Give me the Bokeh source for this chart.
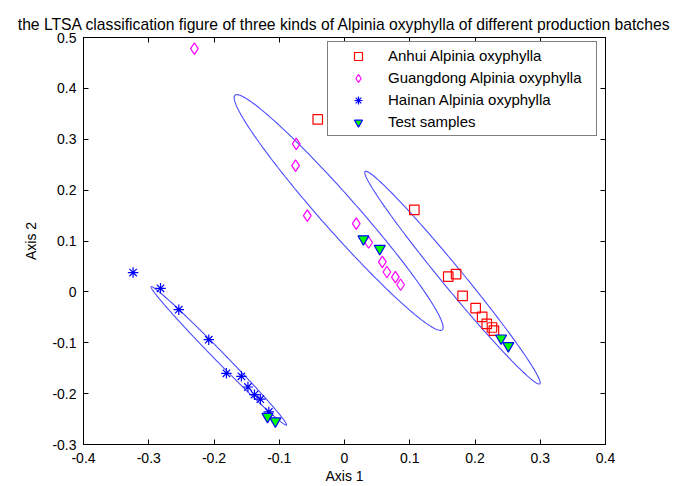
import numpy as np
from bokeh.plotting import figure
from bokeh.models import LinearAxis, FixedTicker, Legend, LegendItem, Range1d
from bokeh.embed import file_html
from bokeh.resources import INLINE

# ---- data ----
anhui_x = [-0.041, 0.107, 0.159, 0.171, 0.181, 0.201, 0.211, 0.218, 0.226, 0.229]
anhui_y = [0.339, 0.161, 0.030, 0.035, -0.008, -0.032, -0.049, -0.063, -0.070, -0.076]

guangdong_x = [-0.230, -0.074, -0.075, -0.057, 0.018, 0.037, 0.058, 0.065, 0.078, 0.086]
guangdong_y = [0.478, 0.291, 0.248, 0.150, 0.134, 0.097, 0.059, 0.039, 0.029, 0.014]

hainan_x = [-0.324, -0.282, -0.254, -0.208, -0.181, -0.158, -0.148, -0.138, -0.129, -0.116]
hainan_y = [0.038, 0.007, -0.035, -0.094, -0.160, -0.166, -0.187, -0.202, -0.211, -0.236]

test_x = [0.029, 0.054, 0.240, 0.251, -0.118, -0.106]
test_y = [0.104, 0.085, -0.091, -0.106, -0.245, -0.254]

# classification ellipses: centre, semi-axes, orientation (degrees)
ell_cx = [-0.009, 0.1655, -0.1926]
ell_cy = [0.156, 0.028, -0.1258]
ell_a = [0.280, 0.248, 0.171]
ell_b = [0.030, 0.0175, 0.0085]
ell_angle = [-55.6, -57.4, -52.7]

x_ticks = [-0.4, -0.3, -0.2, -0.1, 0.0, 0.1, 0.2, 0.3, 0.4]
x_tick_labels = ["-0.4", "-0.3", "-0.2", "-0.1", "0", "0.1", "0.2", "0.3", "0.4"]
y_ticks = [-0.3, -0.2, -0.1, 0.0, 0.1, 0.2, 0.3, 0.4, 0.5]
y_tick_labels = ["-0.3", "-0.2", "-0.1", "0", "0.1", "0.2", "0.3", "0.4", "0.5"]

labels = ["Anhui Alpinia oxyphylla", "Guangdong Alpinia oxyphylla",
          "Hainan Alpinia oxyphylla", "Test samples"]
title_text = ("the LTSA classification figure of three kinds of Alpinia oxyphylla "
              "of different production batches")

FONT = "Liberation Sans"

p = figure(width=681, height=486, output_backend="svg", toolbar_location=None,
           x_range=Range1d(-0.4, 0.4), y_range=Range1d(-0.3, 0.5),
           min_border_left=83, min_border_right=76, min_border_top=37,
           min_border_bottom=40)
p.title.text = title_text
p.title.text_font = FONT
p.title.text_font_size = "15.7px"
p.title.text_font_style = "normal"
p.title.align = "center"
p.title.offset = -12
p.title.text_color = "black"

p.xgrid.visible = False
p.ygrid.visible = False
p.outline_line_color = "black"
p.outline_line_alpha = 1.0
p.background_fill_color = "white"
p.border_fill_color = "white"

def style_axis(ax, ticks, tick_labels, show_labels=True):
    ax.ticker = FixedTicker(ticks=ticks)
    if show_labels:
        ax.major_label_overrides = {t: l for t, l in zip(ticks, tick_labels)}
    else:
        ax.major_label_overrides = {t: "" for t in ticks}
    ax.axis_line_color = "black"
    ax.major_tick_line_color = "black"
    ax.major_tick_in = 5
    ax.major_tick_out = 0
    ax.minor_tick_line_color = None
    ax.major_label_text_font = FONT
    ax.major_label_text_color = "black"
    ax.major_label_text_font_size = "14px"
    ax.major_label_standoff = 8 if show_labels else 0

xa = p.xaxis[0]
ya = p.yaxis[0]
style_axis(xa, x_ticks, x_tick_labels)
style_axis(ya, y_ticks, y_tick_labels)
ya.major_label_standoff = 7
xa.axis_label = "Axis 1"
ya.axis_label = "Axis 2"
for ax in (xa, ya):
    ax.axis_label_text_font = FONT
    ax.axis_label_text_font_size = "14px"
    ax.axis_label_text_font_style = "normal"
    ax.axis_label_text_color = "black"
xa.axis_label_standoff = 2
ya.axis_label_standoff = 10

top_ax = LinearAxis()
right_ax = LinearAxis()
style_axis(top_ax, x_ticks, x_tick_labels, show_labels=False)
style_axis(right_ax, y_ticks, y_tick_labels, show_labels=False)
p.add_layout(top_ax, "above")
p.add_layout(right_ax, "right")

# ellipses
t = np.linspace(0, 2 * np.pi, 300)
xs, ys = [], []
for cx, cy, a, b, ang in zip(ell_cx, ell_cy, ell_a, ell_b, ell_angle):
    th = np.deg2rad(ang)
    xs.append(cx + a * np.cos(th) * np.cos(t) - b * np.sin(th) * np.sin(t))
    ys.append(cy + a * np.sin(th) * np.cos(t) + b * np.cos(th) * np.sin(t))
p.multi_line(xs, ys, line_color="#2a2aff", line_width=1.1, line_alpha=0.85)

r1 = p.scatter(anhui_x, anhui_y, marker="square", size=9.5, fill_color=None,
               line_color="#ff0000", line_width=1.2)
r2 = p.scatter(guangdong_x, guangdong_y, marker="diamond", size=11.5, fill_color=None,
               line_color="#ff00ff", line_width=1.2)
r3 = p.scatter(hainan_x, hainan_y, marker="asterisk", size=10.5,
               line_color="#0000ff", line_width=1.2)
r4 = p.scatter(test_x, test_y, marker="inverted_triangle", size=11,
               fill_color="#00ff00", line_color="#0000ff", line_width=1.2)

legend = Legend(items=[LegendItem(label=labels[0], renderers=[r1]),
                       LegendItem(label=labels[1], renderers=[r2]),
                       LegendItem(label=labels[2], renderers=[r3]),
                       LegendItem(label=labels[3], renderers=[r4])],
                location=(244, 308))
legend.label_text_font = FONT
legend.label_text_font_size = "15px"
legend.label_text_color = "black"
legend.label_height = 21
legend.glyph_height = 20
legend.glyph_width = 54
legend.label_standoff = 3
legend.label_width = 205
legend.spacing = 1
legend.padding = 3
legend.margin = 0
legend.border_line_color = "black"
legend.border_line_width = 1
legend.background_fill_color = "white"
legend.background_fill_alpha = 1.0
p.add_layout(legend, "center")

open("out.html", "w").write(file_html(p, INLINE))
